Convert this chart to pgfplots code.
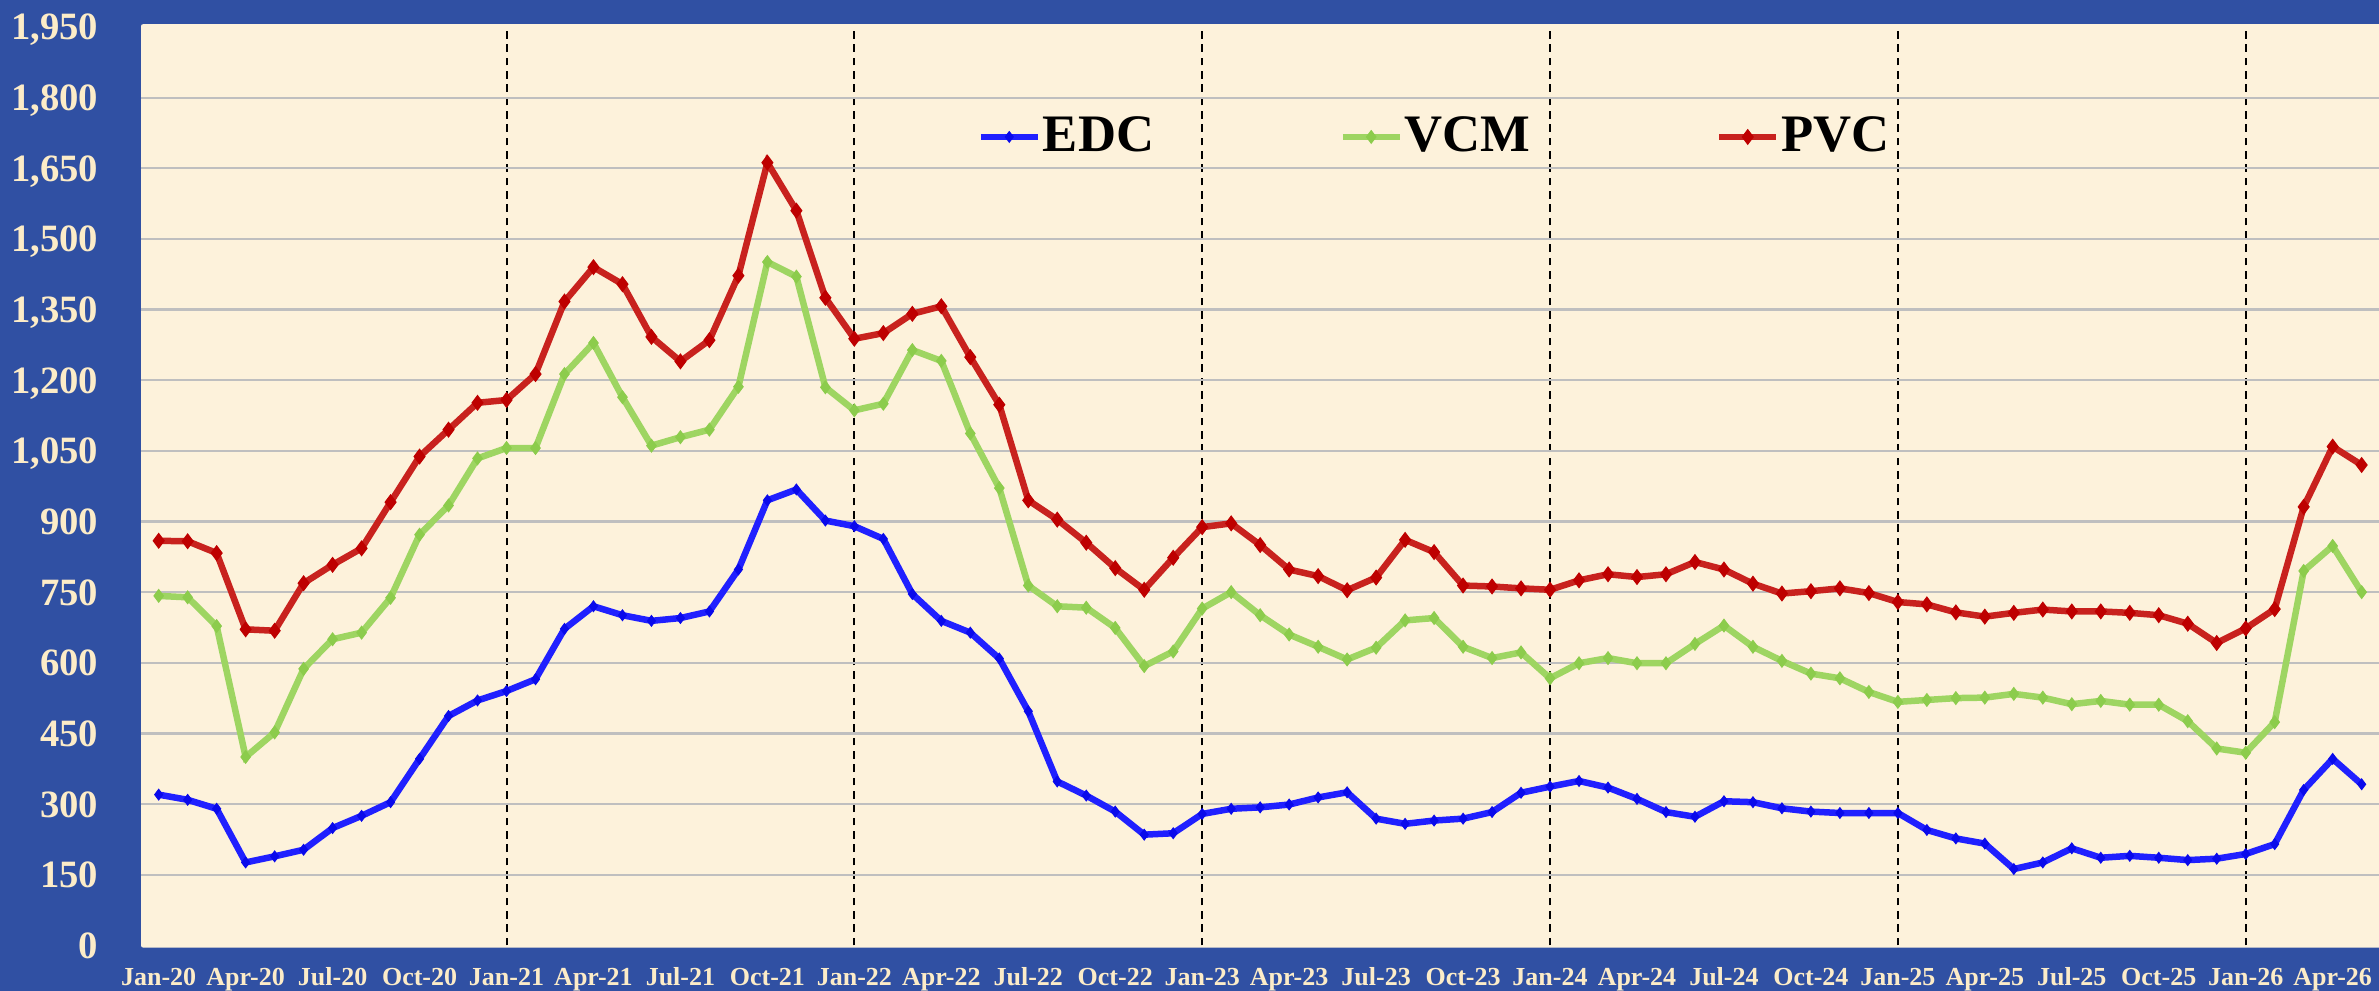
\documentclass[border=0pt]{standalone}
\usepackage{fontspec}
\setmainfont{Liberation Serif}
\usepackage{pgfplots}
\usepackage{pgfplotstable}
\pgfplotsset{compat=1.18}
\definecolor{bgblue}{RGB}{48,80,163}
\definecolor{cream}{RGB}{253,242,219}
\definecolor{lbl}{RGB}{252,236,200}
\definecolor{gridgray}{RGB}{191,191,191}
\definecolor{edcline}{RGB}{32,32,255}
\definecolor{edcmark}{RGB}{10,10,235}
\definecolor{vcmline}{RGB}{158,213,98}
\definecolor{vcmmark}{RGB}{140,204,76}
\definecolor{pvcline}{RGB}{200,34,30}
\definecolor{pvcmark}{RGB}{190,0,0}

\pgfplotstableread{
i edc vcm pvc
0 320 742 859
1 309 739 858
2 290 678 833
3 176 400 671
4 189 452 668
5 203 587 769
6 249 650 808
7 275 664 843
8 304 738 941
9 396 872 1038
10 487 934 1095
11 520 1034 1152
12 540 1056 1158
13 565 1056 1213
14 672 1213 1367
15 720 1279 1440
16 701 1164 1404
17 689 1061 1292
18 695 1079 1240
19 709 1095 1285
20 798 1186 1422
21 945 1451 1662
22 968 1420 1560
23 902 1185 1375
24 890 1136 1288
25 863 1150 1300
26 746 1264 1341
27 689 1241 1357
28 664 1087 1249
29 609 971 1148
30 497 764 945
31 348 720 904
32 318 717 855
33 284 674 801
34 235 593 755
35 238 624 823
36 279 715 888
37 290 750 896
38 293 701 850
39 299 660 798
40 314 634 784
41 325 607 754
42 269 632 781
43 258 690 861
44 265 695 835
45 269 634 764
46 283 610 762
47 324 622 758
48 337 567 755
49 349 599 775
50 335 610 788
51 311 599 782
52 283 599 788
53 273 640 814
54 306 679 798
55 304 634 768
56 291 604 747
57 284 577 752
58 281 567 758
59 281 538 748
60 281 517 729
61 245 521 724
62 227 525 707
63 216 526 698
64 162 534 706
65 176 526 713
66 206 512 709
67 186 519 709
68 190 511 706
69 186 511 701
70 181 476 683
71 184 418 642
72 194 409 673
73 215 474 714
74 330 795 931
75 396 848 1059
76 342 750 1020
}\data

\begin{document}
\begin{tikzpicture}
\useasboundingbox (-42.3pt,-13.65pt) rectangle (671.4pt,283.6pt);
\fill[bgblue] (-42.3pt,-13.65pt) rectangle (671.4pt,283.6pt);
\fill[cream, rounded corners=0.6pt] (0pt,-0.66pt) rectangle (673pt,276.34pt);
\begin{axis}[
  scale only axis, width=671.4pt, height=275.5pt,
  at={(0,0)}, anchor=south west,
  xmin=-0.61, xmax=76.6, ymin=0, ymax=1950,
  axis line style={draw=none},
  major tick length=0pt,
  /pgf/number format/assume math mode=true,
  xtick={0,3,...,75},
  xticklabels={Jan-20,Apr-20,Jul-20,Oct-20,Jan-21,Apr-21,Jul-21,Oct-21,Jan-22,Apr-22,Jul-22,Oct-22,Jan-23,Apr-23,Jul-23,Oct-23,Jan-24,Apr-24,Jul-24,Oct-24,Jan-25,Apr-25,Jul-25,Oct-25,Jan-26,Apr-26},
  ytick={0,150,...,1950},
  xticklabel style={font=\fontsize{7.8}{9}\selectfont\bfseries, text=lbl, anchor=base, inner sep=0pt, yshift=-12.15pt},
  yticklabel style={font=\fontsize{11.6}{13}\selectfont\bfseries, text=lbl, anchor=base east, inner sep=0pt, xshift=-12.6pt, yshift=-3.9pt},
  extra y ticks={150,300,...,1800},
  extra y tick labels={},
  extra y tick style={grid=major, major grid style={gridgray, line width=0.65pt}},
  extra x ticks={12,24,36,48,60,72},
  extra x tick labels={},
  extra x tick style={grid=major, major grid style={black, line width=0.6pt, dash pattern=on 2.3pt off 1.7pt}},
  legend columns=3,
  legend cell align=left,
  legend style={draw=none, fill=none, at={(axis description cs:0.3735,0.8803)}, anchor=west, inner sep=0pt,
    font=\fontsize{15.8}{18}\selectfont\bfseries, text=black,
    nodes={inner sep=0.6pt},
    /tikz/every even column/.append style={column sep=55pt}},
]
\addplot[edcline, line width=1.95pt, mark=diamond*, mark size=1.6pt, mark options={fill=edcmark, draw=edcmark, line width=0.3pt}] table[x=i,y=edc]{\data};
\addlegendentry{EDC}
\addplot[vcmline, line width=1.95pt, mark=diamond*, mark size=1.9pt, mark options={fill=vcmmark, draw=vcmmark, line width=0.3pt}] table[x=i,y=vcm]{\data};
\addlegendentry{VCM}
\addplot[pvcline, line width=1.95pt, mark=diamond*, mark size=2.2pt, mark options={fill=pvcmark, draw=pvcmark, line width=0.3pt}] table[x=i,y=pvc]{\data};
\addlegendentry{PVC}
\end{axis}
\end{tikzpicture}
\end{document}
